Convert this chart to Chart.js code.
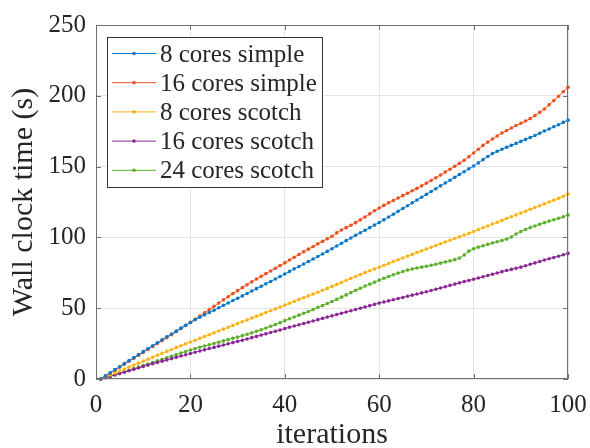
<!DOCTYPE html>
<html>
<head>
<meta charset="utf-8">
<script src="https://cdn.jsdelivr.net/npm/chart.js@4.4.1/dist/chart.umd.min.js"></script>
<style>
  html, body { margin: 0; padding: 0; background: #fff; }
  canvas { display: block; }
</style>
</head>
<body>
<canvas id="wallClockChart" width="590" height="448"></canvas>
<script>
const iterations = Array.from({ length: 100 }, (_, index) => index + 1);

const seriesLabels = ["8 cores simple", "16 cores simple", "8 cores scotch", "16 cores scotch", "24 cores scotch"];
const seriesColors = ["#0a78c8", "#f0501e", "#fcb414", "#8c2896", "#5cb02a"];

const simple8Cores = [
  0, 2.2, 4.4, 6.6, 8.7, 10.9, 13.0, 15.1, 17.2, 19.3,
  21.4, 23.5, 25.6, 27.7, 29.8, 31.8, 33.8, 35.9, 37.9, 39.9,
  41.9, 43.6, 45.3, 47.0, 48.6, 50.3, 52.0, 53.7, 55.4, 57.0,
  58.7, 60.4, 62.1, 63.8, 65.5, 67.2, 68.9, 70.6, 72.4, 74.2,
  76.0, 77.8, 79.5, 81.2, 83.0, 84.7, 86.5, 88.3, 90.1, 92.0,
  93.9, 95.8, 97.7, 99.6, 101.5, 103.3, 105.1, 106.9, 108.7, 110.5,
  112.4, 114.4, 116.4, 118.4, 120.4, 122.4, 124.4, 126.4, 128.4, 130.4,
  132.4, 134.4, 136.4, 138.4, 140.4, 142.4, 144.4, 146.4, 148.4, 150.4,
  152.6, 154.9, 157.1, 159.2, 160.8, 162.2, 163.6, 165.0, 166.4, 167.8,
  169.2, 170.6, 172.0, 173.6, 175.1, 176.6, 178.1, 179.6, 181.2, 182.8,
];

const simple16Cores = [
  0, 2.0, 4.1, 6.2, 8.3, 10.4, 12.5, 14.6, 16.7, 18.8,
  20.9, 23.0, 25.0, 27.1, 29.2, 31.3, 33.4, 35.6, 37.8, 40.0,
  42.2, 44.4, 46.7, 49.0, 51.3, 53.6, 55.9, 58.1, 60.3, 62.4,
  64.5, 66.6, 68.6, 70.6, 72.5, 74.4, 76.3, 78.2, 80.1, 82.0,
  84.0, 86.0, 87.9, 89.8, 91.7, 93.6, 95.4, 97.2, 99.0, 100.8,
  103.2, 105.2, 106.9, 108.6, 110.4, 112.4, 114.4, 116.6, 118.8, 120.8,
  122.6, 124.4, 126.1, 127.8, 129.5, 131.2, 132.9, 134.6, 136.4, 138.3,
  140.2, 142.1, 144.1, 146.1, 148.1, 150.2, 152.3, 154.5, 157.0, 159.6,
  162.3, 165.0, 167.3, 169.5, 171.6, 173.7, 175.5, 177.3, 179.0, 180.6,
  182.2, 183.9, 186.0, 188.3, 190.7, 193.6, 196.6, 199.7, 202.9, 206.0,
];

const scotch8Cores = [
  0, 1.4, 2.8, 4.2, 5.6, 7.0, 8.4, 9.8, 11.2, 12.6,
  14.0, 15.4, 16.8, 18.1, 19.5, 20.8, 22.2, 23.5, 24.8, 26.1,
  27.4, 28.7, 30.0, 31.3, 32.6, 33.9, 35.2, 36.5, 37.8, 39.1,
  40.4, 41.7, 43.0, 44.3, 45.6, 46.9, 48.2, 49.5, 50.8, 52.2,
  53.5, 54.8, 56.1, 57.4, 58.7, 60.0, 61.3, 62.7, 64.0, 65.4,
  66.8, 68.2, 69.6, 71.0, 72.4, 73.8, 75.1, 76.4, 77.7, 79.0,
  80.3, 81.6, 82.9, 84.2, 85.4, 86.7, 88.0, 89.3, 90.6, 91.8,
  93.0, 94.3, 95.5, 96.7, 98.0, 99.2, 100.4, 101.7, 102.9, 104.2,
  105.5, 106.8, 108.1, 109.4, 110.7, 112.0, 113.3, 114.6, 115.9, 117.2,
  118.5, 119.8, 121.1, 122.4, 123.7, 125.0, 126.3, 127.6, 129.0, 130.6,
];

const scotch16Cores = [
  0, 0.9, 1.8, 2.8, 3.8, 4.8, 5.8, 6.8, 7.8, 8.8,
  9.8, 10.8, 11.7, 12.6, 13.5, 14.4, 15.3, 16.2, 17.1, 18.0,
  18.9, 19.8, 20.6, 21.5, 22.3, 23.2, 24.0, 24.9, 25.7, 26.6,
  27.4, 28.3, 29.2, 30.1, 31.0, 31.9, 32.8, 33.7, 34.6, 35.6,
  36.5, 37.4, 38.3, 39.2, 40.1, 41.0, 41.9, 42.8, 43.7, 44.6,
  45.5, 46.4, 47.3, 48.2, 49.1, 50.0, 50.9, 51.8, 52.7, 53.6,
  54.4, 55.2, 56.0, 56.8, 57.6, 58.4, 59.2, 60.0, 60.8, 61.6,
  62.5, 63.4, 64.3, 65.2, 66.1, 67.0, 67.9, 68.8, 69.6, 70.4,
  71.3, 72.2, 73.1, 74.0, 74.9, 75.8, 76.6, 77.4, 78.2, 79.0,
  80.0, 81.0, 82.0, 83.0, 84.0, 84.9, 85.8, 86.7, 87.7, 88.7,
];

const scotch24Cores = [
  0, 1.0, 2.0, 3.0, 4.0, 5.1, 6.2, 7.3, 8.4, 9.5,
  10.6, 11.7, 12.8, 13.9, 15.0, 16.1, 17.2, 18.3, 19.4, 20.5,
  21.5, 22.4, 23.3, 24.2, 25.1, 26.0, 26.9, 27.8, 28.7, 29.6,
  30.6, 31.6, 32.6, 33.7, 34.8, 36.0, 37.2, 38.5, 39.8, 41.2,
  42.5, 43.8, 45.1, 46.4, 47.7, 49.1, 50.5, 51.9, 53.3, 54.7,
  56.2, 57.8, 59.4, 61.0, 62.6, 64.1, 65.6, 67.0, 68.4, 69.8,
  71.1, 72.4, 73.6, 74.8, 75.9, 76.9, 77.7, 78.4, 79.0, 79.6,
  80.3, 81.0, 81.8, 82.6, 83.4, 84.3, 85.4, 87.6, 90.3, 92.0,
  93.1, 94.1, 95.1, 96.0, 96.9, 97.8, 98.8, 100.3, 102.4, 104.2,
  105.6, 106.9, 108.1, 109.3, 110.4, 111.5, 112.5, 113.5, 114.6, 115.8,
];

const seriesValues = [simple8Cores, simple16Cores, scotch8Cores, scotch16Cores, scotch24Cores];

const serifFont = "'Liberation Serif', 'Times New Roman', serif";
const axisColor = "#707070";
const textColor = "#262626";

// box round the plot with small inward ticks on all four sides, like matlab
const axesBoxPlugin = {
  id: "axesBox",
  afterDatasetsDraw(chart) {
    const { ctx, chartArea, scales } = chart;
    const tickLength = 5;

    ctx.save();
    ctx.strokeStyle = axisColor;
    ctx.lineWidth = 1;
    ctx.strokeRect(chartArea.left + 0.5, chartArea.top + 0.5, chartArea.width - 1, chartArea.height - 1);

    ctx.beginPath();
    scales.x.ticks.forEach((tick) => {
      const x = Math.round(scales.x.getPixelForValue(tick.value)) + 0.5;
      ctx.moveTo(x, chartArea.bottom);
      ctx.lineTo(x, chartArea.bottom - tickLength);
      ctx.moveTo(x, chartArea.top);
      ctx.lineTo(x, chartArea.top + tickLength);
    });
    scales.y.ticks.forEach((tick) => {
      const y = Math.round(scales.y.getPixelForValue(tick.value)) + 0.5;
      ctx.moveTo(chartArea.left, y);
      ctx.lineTo(chartArea.left + tickLength, y);
      ctx.moveTo(chartArea.right, y);
      ctx.lineTo(chartArea.right - tickLength, y);
    });
    ctx.stroke();
    ctx.restore();
  },
};

const insideLegendPlugin = {
  id: "insideLegend",
  afterDraw(chart) {
    const { ctx, chartArea } = chart;
    const boxLeft = chartArea.left + 11;
    const boxTop = chartArea.top + 12;
    const boxWidth = 215;
    const boxHeight = 150;
    const rowSpacing = 29.2;

    ctx.save();
    ctx.fillStyle = "#ffffff";
    ctx.fillRect(boxLeft, boxTop, boxWidth, boxHeight);
    ctx.strokeStyle = "#333333";
    ctx.lineWidth = 1;
    ctx.strokeRect(boxLeft + 0.5, boxTop + 0.5, boxWidth, boxHeight);

    ctx.font = `25px ${serifFont}`;
    ctx.textBaseline = "alphabetic";
    ctx.textAlign = "left";

    chart.data.datasets.forEach((dataset, index) => {
      const rowY = boxTop + 16.5 + index * rowSpacing;
      ctx.strokeStyle = dataset.borderColor;
      ctx.lineWidth = 1;
      ctx.beginPath();
      ctx.moveTo(boxLeft + 5, rowY);
      ctx.lineTo(boxLeft + 49, rowY);
      ctx.stroke();

      ctx.fillStyle = dataset.borderColor;
      ctx.beginPath();
      ctx.arc(boxLeft + 27, rowY, 1.8, 0, Math.PI * 2);
      ctx.fill();

      ctx.fillStyle = textColor;
      ctx.fillText(dataset.label, boxLeft + 53, rowY + 8);
    });
    ctx.restore();
  },
};

const datasets = seriesLabels.map((label, seriesIndex) => ({
  label,
  data: iterations.map((iteration, pointIndex) => ({ x: iteration, y: seriesValues[seriesIndex][pointIndex] })),
  borderColor: seriesColors[seriesIndex],
  backgroundColor: seriesColors[seriesIndex],
  borderWidth: 1,
  pointRadius: 1.8,
  pointBorderWidth: 0,
  pointHoverRadius: 0,
  tension: 0,
  clip: 6,
}));

new Chart(document.getElementById("wallClockChart"), {
  type: "line",
  data: { datasets },
  plugins: [axesBoxPlugin, insideLegendPlugin],
  options: {
    responsive: false,
    animation: false,
    devicePixelRatio: 1,
    layout: {
      padding: { top: 25, right: 22, bottom: 0, left: 0 },
    },
    plugins: {
      legend: { display: false },
      tooltip: { enabled: false },
    },
    scales: {
      x: {
        type: "linear",
        min: 0,
        max: 100,
        afterFit(scale) {
          scale.height = 69;
          // keep the plot edge where it is; the "100" label has room in the layout padding
          scale.paddingLeft = 0;
          scale.paddingRight = 0;
        },
        ticks: {
          stepSize: 20,
          padding: 11,
          maxRotation: 0,
          color: textColor,
          font: { family: serifFont, size: 25 },
        },
        grid: { color: "#e4e4e4", drawTicks: false },
        border: { display: false },
        title: {
          display: true,
          text: "iterations",
          color: textColor,
          font: { family: serifFont, size: 30, lineHeight: 0.8 },
          padding: { top: 0, bottom: 1 },
        },
      },
      y: {
        min: 0,
        max: 250,
        afterFit(scale) {
          scale.width = 96;
          scale.paddingTop = 0;
          scale.paddingBottom = 0;
        },
        ticks: {
          stepSize: 50,
          padding: 10,
          color: textColor,
          font: { family: serifFont, size: 25 },
        },
        grid: { color: "#e4e4e4", drawTicks: false },
        border: { display: false },
        title: {
          display: true,
          text: "Wall clock time (s)",
          color: textColor,
          font: { family: serifFont, size: 30, lineHeight: 0.8 },
          padding: { top: 12, bottom: 0 },
        },
      },
    },
  },
});
</script>
</body>
</html>
